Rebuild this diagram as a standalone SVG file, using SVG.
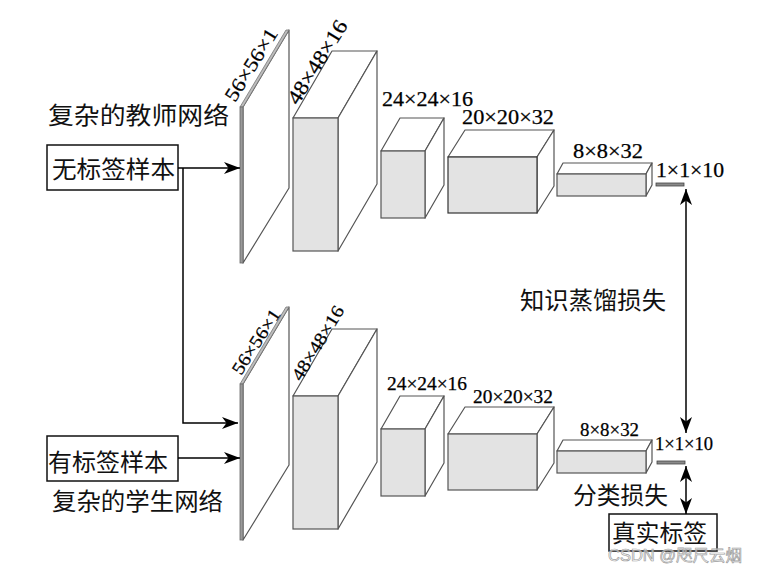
<svg xmlns="http://www.w3.org/2000/svg" width="759" height="569" viewBox="0 0 759 569">
<style>
.face{fill:#ffffff;stroke:#555;stroke-width:1.2;stroke-linejoin:round}
.front{fill:#e3e3e3;stroke:#555;stroke-width:1.2}
.strip{fill:#bdbdbd;stroke:#777;stroke-width:0.8}
.pfront{fill:#9a9a9a;stroke:#666;stroke-width:0.8}
.bar{fill:#8a8a8a;stroke:#444;stroke-width:0.8}
.num{font-family:"Liberation Serif","Times New Roman",serif;fill:#000;stroke:#000;stroke-width:0.25}
.cn{font-family:"Noto Sans CJK SC","Noto Sans",sans-serif;fill:#111;font-size:24px}
.box{fill:#fff;stroke:#111;stroke-width:1.5}
.conn{fill:none;stroke:#000;stroke-width:1.5}
</style>
<defs>
<marker id="ah" markerUnits="userSpaceOnUse" markerWidth="17" markerHeight="13" refX="16" refY="6.5" orient="auto-start-reverse">
<path d="M0,0.5 L16,6.5 L0,12.5 L4.5,6.5 Z" fill="#000"/>
</marker>
</defs>

<!-- Teacher network -->
<g id="teacher-label"><text class="cn" x="48" y="124" font-size="25" textLength="181" lengthAdjust="spacingAndGlyphs">复杂的教师网络</text></g>
<g id="unlabeled-box"><rect class="box" x="47" y="145" width="131" height="45"/><text class="cn" x="52" y="178" textLength="123" lengthAdjust="spacingAndGlyphs">无标签样本</text></g>

<g id="t-plate">
<polygon class="face" points="243,107 289,30 289,188 243,263"/>
<polygon class="strip" points="240,107 243,107 289,30 286,30"/>
<rect class="pfront" x="240" y="107" width="3" height="156"/>
<text class="num" font-size="20" textLength="82" lengthAdjust="spacingAndGlyphs" transform="translate(235,103) rotate(-58)">56×56×1</text>
</g>
<g id="t-conv1">
<polygon class="face" points="293,118 338,118 377,51 332,51"/>
<polygon class="face" points="338,118 377,51 377,184 338,251"/>
<rect class="front" x="293" y="118" width="45" height="133"/>
<text class="num" font-size="21" textLength="95" lengthAdjust="spacingAndGlyphs" transform="translate(298,106) rotate(-58)">48×48×16</text>
</g>
<g id="t-pool1">
<polygon class="face" points="381,151 425,151 444,118 400,118"/>
<polygon class="face" points="425,151 444,118 444,185 425,218"/>
<rect class="front" x="381" y="151" width="44" height="67"/>
<text class="num" x="382" y="106" font-size="20" textLength="91" lengthAdjust="spacingAndGlyphs">24×24×16</text>
</g>
<g id="t-conv2">
<polygon class="face" points="448,157 537,157 554,130 465,130"/>
<polygon class="face" points="537,157 554,130 554,186 537,213"/>
<rect class="front" x="448" y="157" width="89" height="56" style="stroke:#333"/>
<text class="num" x="462" y="124" font-size="20" textLength="92" lengthAdjust="spacingAndGlyphs">20×20×32</text>
</g>
<g id="t-pool2">
<polygon class="face" points="557,174 646,174 652,163 563,163"/>
<polygon class="face" points="646,174 652,163 652,185 646,196"/>
<rect class="front" x="557" y="174" width="89" height="22"/>
<text class="num" x="573" y="158" font-size="20" textLength="70" lengthAdjust="spacingAndGlyphs">8×8×32</text>
</g>
<g id="t-out">
<rect class="bar" x="656" y="183" width="28" height="3"/>
<text class="num" x="656" y="177" font-size="20" textLength="68" lengthAdjust="spacingAndGlyphs">1×1×10</text>
</g>

<!-- Student network -->
<g id="labeled-box"><rect class="box" x="47" y="436" width="131" height="45"/><text class="cn" x="48" y="471" textLength="120" lengthAdjust="spacingAndGlyphs">有标签样本</text></g>
<g id="student-label"><text class="cn" x="52" y="510" textLength="171" lengthAdjust="spacingAndGlyphs">复杂的学生网络</text></g>

<g id="s-plate">
<polygon class="face" points="243,384 289,307 289,465 243,540"/>
<polygon class="strip" points="240,384 243,384 289,307 286,307"/>
<rect class="pfront" x="240" y="384" width="3" height="156"/>
<text class="num" font-size="18" textLength="74" lengthAdjust="spacingAndGlyphs" transform="translate(241,376) rotate(-57)">56×56×1</text>
</g>
<g id="s-conv1">
<polygon class="face" points="293,396 338,396 377,329 332,329"/>
<polygon class="face" points="338,396 377,329 377,462 338,529"/>
<rect class="front" x="293" y="396" width="45" height="133"/>
<text class="num" font-size="18" textLength="84" lengthAdjust="spacingAndGlyphs" transform="translate(301,382) rotate(-58.5)">48×48×16</text>
</g>
<g id="s-pool1">
<polygon class="face" points="381,429 425,429 444,396 400,396"/>
<polygon class="face" points="425,429 444,396 444,463 425,496"/>
<rect class="front" x="381" y="429" width="44" height="67"/>
<text class="num" x="387" y="390" font-size="18" textLength="80" lengthAdjust="spacingAndGlyphs">24×24×16</text>
</g>
<g id="s-conv2">
<polygon class="face" points="448,434 537,434 554,407 465,407"/>
<polygon class="face" points="537,434 554,407 554,463 537,490"/>
<rect class="front" x="448" y="434" width="89" height="56"/>
<text class="num" x="473" y="403" font-size="18" textLength="80" lengthAdjust="spacingAndGlyphs">20×20×32</text>
</g>
<g id="s-pool2">
<polygon class="face" points="557,451 646,451 652,440 563,440"/>
<polygon class="face" points="646,451 652,440 652,462 646,473"/>
<rect class="front" x="557" y="451" width="89" height="22"/>
<text class="num" x="580" y="436" font-size="18" textLength="59" lengthAdjust="spacingAndGlyphs">8×8×32</text>
</g>
<g id="s-out">
<rect class="bar" x="657" y="461" width="28" height="3"/>
<text class="num" x="655" y="450" font-size="18" textLength="58" lengthAdjust="spacingAndGlyphs">1×1×10</text>
</g>

<g id="kd-label"><text class="cn" x="520" y="309" textLength="146" lengthAdjust="spacingAndGlyphs">知识蒸馏损失</text></g>
<g id="cls-label"><text class="cn" x="573" y="504" textLength="95" lengthAdjust="spacingAndGlyphs">分类损失</text></g>
<g id="truth-box"><rect class="box" x="609" y="514" width="108" height="37"/><text class="cn" x="612" y="542" textLength="95" lengthAdjust="spacingAndGlyphs">真实标签</text></g>

<g id="connectors">
<line class="conn" x1="178" y1="168" x2="240" y2="168" marker-end="url(#ah)"/>
<path class="conn" d="M183,168 V423 H238" marker-end="url(#ah)"/>
<line class="conn" x1="178" y1="458" x2="240" y2="458" marker-end="url(#ah)"/>
<line class="conn" x1="686" y1="189" x2="686" y2="433" marker-start="url(#ah)" marker-end="url(#ah)"/>
<line class="conn" x1="686" y1="466" x2="686" y2="514" marker-start="url(#ah)" marker-end="url(#ah)"/>
</g>

<text x="608" y="561" font-family="'Liberation Sans','Noto Sans CJK SC',sans-serif" font-size="16" fill="#ffffff" fill-opacity="0.6" stroke="#a0a0a0" stroke-width="0.7" textLength="134" lengthAdjust="spacingAndGlyphs">CSDN @咫尺云烟</text>
</svg>
